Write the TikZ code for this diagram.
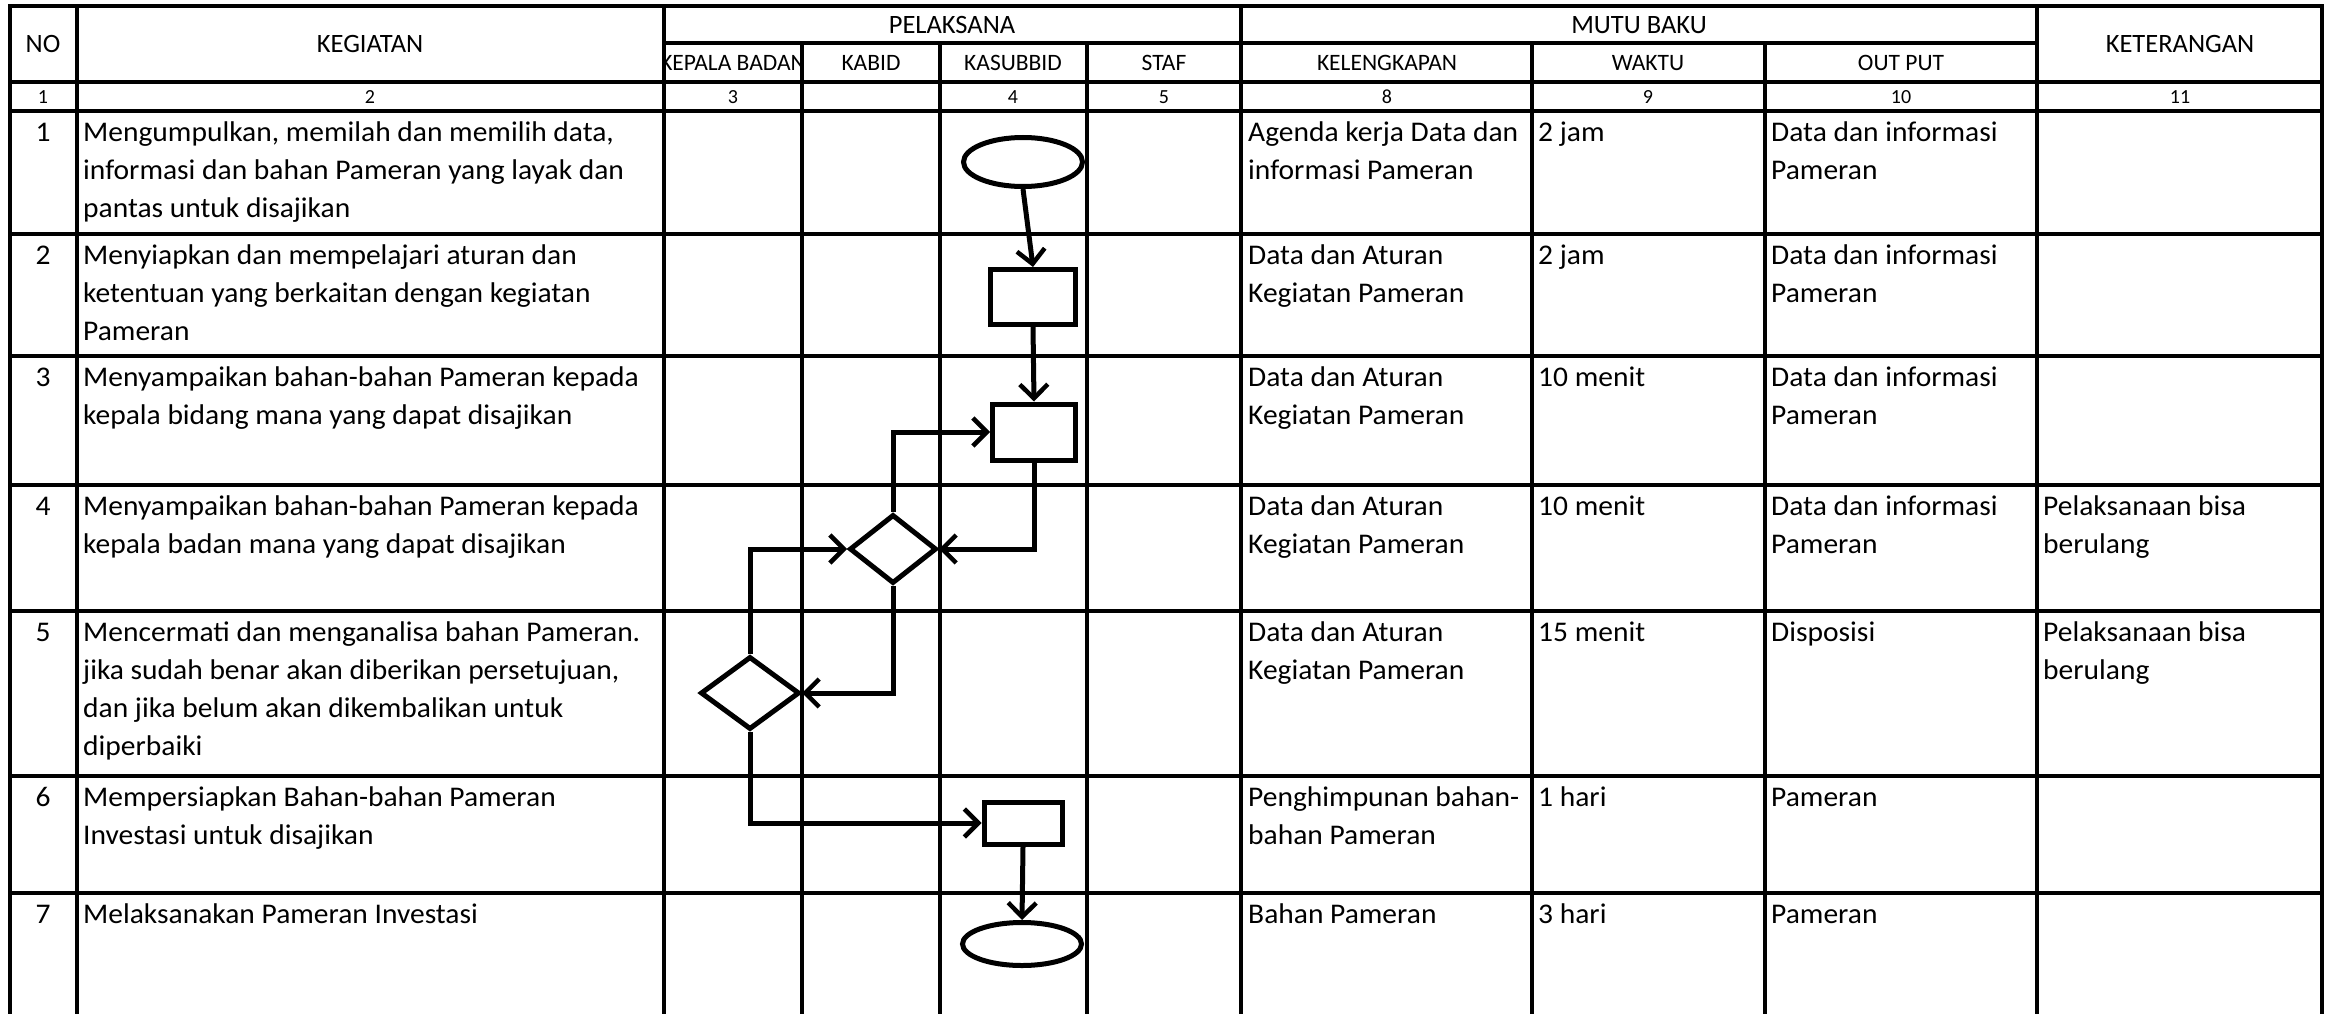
\documentclass[tikz,border=0pt]{standalone}
\usepackage{fontspec}
\setmainfont{Carlito}
\newfontfamily\bodyfont{Carlito}[FakeStretch=1.035]
\usetikzlibrary{arrows.meta,shapes.geometric}
\tikzset{
  gridh/.style={line width=4pt, line cap=rect},
  gridv/.style={line width=3.4pt},
  flow/.style={draw, line width=5pt, fill=white, inner sep=0pt},
  term/.style={flow, ellipse},
  proc/.style={flow, rectangle},
  decide/.style={flow, diamond},
  link/.style={line width=5pt, -{Straight Barb[length=14pt,width=28pt,line width=4.5pt]}},
  hdr/.style={font=\fontsize{26.5}{32}\selectfont, inner sep=0pt},
  subhdr/.style={font=\fontsize{23.5}{28}\selectfont, inner sep=0pt},
  numtxt/.style={font=\fontsize{20}{24}\selectfont, inner sep=0pt},
  body/.style={font=\bodyfont\fontsize{28.5}{38}\selectfont, inner sep=0pt, anchor=base west},
  rowno/.style={font=\bodyfont\fontsize{28.5}{38}\selectfont, inner sep=0pt, anchor=base},
}
\newcommand\celltxt[4]{\node[body] (#1) at (#2,#3) {\begin{tabular}[t]{@{}l@{}}#4\end{tabular}};}
\begin{document}
\begin{tikzpicture}[x=1pt,y=-1pt]
\useasboundingbox (0,0) rectangle (2325,1014);
% ---------- grid ----------
\draw[gridh] (10,6) -- (2322,6);
\draw[gridh] (664,43) -- (2037,43);
\foreach \yy in {82,111,234,356,485,611,776,893}
  \draw[gridh] (10,\yy) -- (2322,\yy);
\foreach \xx in {10,77,664,1241,2037,2322}
  \draw[gridv] (\xx,6) -- (\xx,1014);
\foreach \xx in {802,940,1087,1532,1765}
  \draw[gridv] (\xx,43) -- (\xx,1014);
% ---------- header ----------
\node[hdr] (hNo) at (43,44) {NO};
\node[hdr] (hKeg) at (370,44) {KEGIATAN};
\node[hdr] (hPel) at (952,25) {PELAKSANA};
\node[hdr] (hMutu) at (1639,25) {MUTU BAKU};
\node[hdr] (hKet) at (2180,44) {KETERANGAN};
\begin{scope}
  \clip (666,45) rectangle (800,80);
  \node[subhdr] (sKep) at (733,63) {KEPALA BADAN};
\end{scope}
\node[subhdr] (sKab) at (871,63) {KABID};
\node[subhdr] (sKas) at (1013,63) {KASUBBID};
\node[subhdr] (sSta) at (1164,63) {STAF};
\node[subhdr] (sKel) at (1387,63) {KELENGKAPAN};
\node[subhdr] (sWak) at (1648,63) {WAKTU};
\node[subhdr] (sOut) at (1901,63) {OUT PUT};
% ---------- numbering row ----------
\node[numtxt] (c1) at (43,97) {1};
\node[numtxt] (c2) at (370,97) {2};
\node[numtxt] (c3) at (733,97) {3};
\node[numtxt] (c4) at (1013,97) {4};
\node[numtxt] (c5) at (1164,97) {5};
\node[numtxt] (c8) at (1387,97) {8};
\node[numtxt] (c9) at (1648,97) {9};
\node[numtxt] (c10) at (1901,97) {10};
\node[numtxt] (c11) at (2180,97) {11};
% ---------- rows ----------
\node[rowno] (n1) at (43,141) {1};
\node[rowno] (n2) at (43,264) {2};
\node[rowno] (n3) at (43,386) {3};
\node[rowno] (n4) at (43,515) {4};
\node[rowno] (n5) at (43,641) {5};
\node[rowno] (n6) at (43,806) {6};
\node[rowno] (n7) at (43,923) {7};
\celltxt{k1}{83}{141}{Mengumpulkan, memilah dan memilih data,\\informasi dan bahan Pameran yang layak dan\\pantas untuk disajikan}
\celltxt{k2}{83}{264}{Menyiapkan dan mempelajari aturan dan\\ketentuan yang berkaitan dengan kegiatan\\Pameran}
\celltxt{k3}{83}{386}{Menyampaikan bahan-bahan Pameran kepada\\kepala bidang mana yang dapat disajikan}
\celltxt{k4}{83}{515}{Menyampaikan bahan-bahan Pameran kepada\\kepala badan mana yang dapat disajikan}
\celltxt{k5}{83}{641}{Mencermati dan menganalisa bahan Pameran.\\jika sudah benar akan diberikan persetujuan,\\dan jika belum akan dikembalikan untuk\\diperbaiki}
\celltxt{k6}{83}{806}{Mempersiapkan Bahan-bahan Pameran\\Investasi untuk disajikan}
\celltxt{k7}{83}{923}{Melaksanakan Pameran Investasi}
% kelengkapan
\celltxt{l1}{1248}{141}{Agenda kerja Data dan\\informasi Pameran}
\celltxt{l2}{1248}{264}{Data dan Aturan\\Kegiatan Pameran}
\celltxt{l3}{1248}{386}{Data dan Aturan\\Kegiatan Pameran}
\celltxt{l4}{1248}{515}{Data dan Aturan\\Kegiatan Pameran}
\celltxt{l5}{1248}{641}{Data dan Aturan\\Kegiatan Pameran}
\celltxt{l6}{1248}{806}{Penghimpunan bahan-\\bahan Pameran}
\celltxt{l7}{1248}{923}{Bahan Pameran}
% waktu
\celltxt{w1}{1538}{141}{2 jam}
\celltxt{w2}{1538}{264}{2 jam}
\celltxt{w3}{1538}{386}{10 menit}
\celltxt{w4}{1538}{515}{10 menit}
\celltxt{w5}{1538}{641}{15 menit}
\celltxt{w6}{1538}{806}{1 hari}
\celltxt{w7}{1538}{923}{3 hari}
% output
\celltxt{o1}{1771}{141}{Data dan informasi\\Pameran}
\celltxt{o2}{1771}{264}{Data dan informasi\\Pameran}
\celltxt{o3}{1771}{386}{Data dan informasi\\Pameran}
\celltxt{o4}{1771}{515}{Data dan informasi\\Pameran}
\celltxt{o5}{1771}{641}{Disposisi}
\celltxt{o6}{1771}{806}{Pameran}
\celltxt{o7}{1771}{923}{Pameran}
% keterangan
\celltxt{t4}{2043}{515}{Pelaksanaan bisa\\berulang}
\celltxt{t5}{2043}{641}{Pelaksanaan bisa\\berulang}
% ---------- flowchart ----------
\node[term, minimum width=119pt, minimum height=49pt] (e1) at (1023,162) {};
\node[proc, minimum width=85pt, minimum height=55pt] (b2) at (1033,297) {};
\node[proc, minimum width=83pt, minimum height=56pt] (b3) at (1034,432) {};
\node[decide, minimum width=87pt, minimum height=69pt] (d1) at (893,549) {};
\node[decide, minimum width=99pt, minimum height=73pt] (d2) at (750,693) {};
\node[proc, minimum width=78pt, minimum height=42pt] (b6) at (1023,823) {};
\node[term, minimum width=119pt, minimum height=43pt] (e2) at (1022,944) {};
\draw[link] (e1.south) -- (b2.north);
\draw[link] (b2.south) -- (b3.north);
\draw[link] (d1.north) |- (b3.west);
\draw[link] (b3.south) |- (d1.east);
\draw[link] (d2.north) |- (d1.west);
\draw[link] (d1.south) |- (d2.east);
\draw[link] (d2.south) |- (b6.west);
\draw[link] (b6.south) -- (e2.north);
\end{tikzpicture}
\end{document}
